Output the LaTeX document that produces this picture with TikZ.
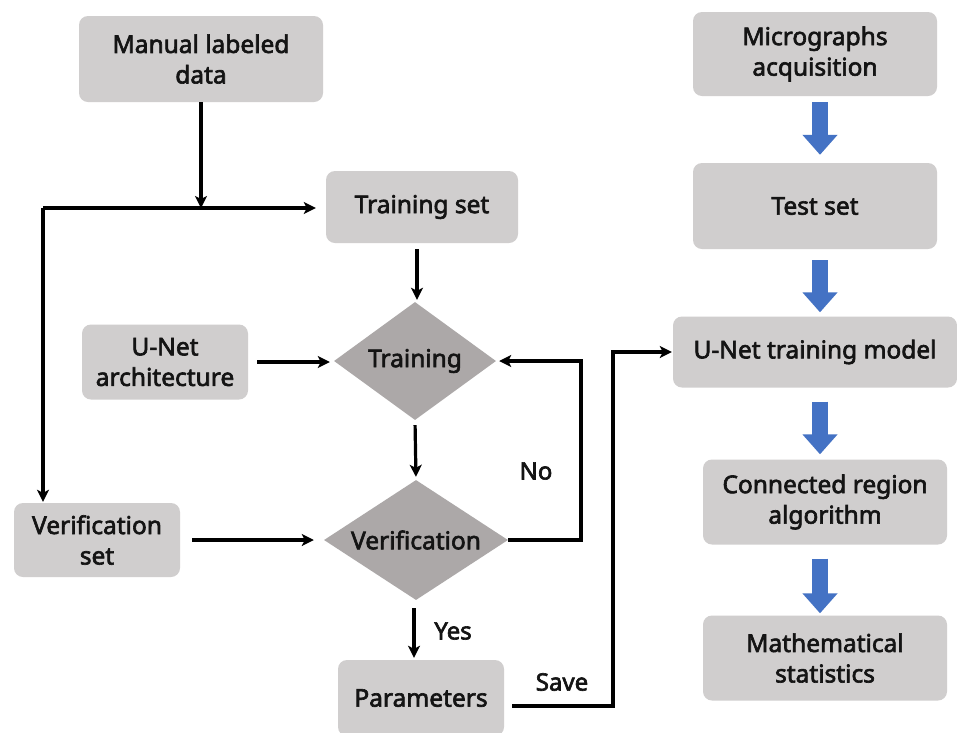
\documentclass[tikz,border=0pt]{standalone}
\usepackage{fontspec}
\setmainfont{Noto Sans}
\newfontfamily\boldnoto{Noto Sans}[FakeBold=2.6]
\usetikzlibrary{arrows.meta,shapes.geometric}
\definecolor{boxgray}{RGB}{208,206,206}
\definecolor{diagray}{RGB}{172,168,168}
\definecolor{bluearr}{RGB}{68,114,196}
\definecolor{txt}{RGB}{20,20,20}
\tikzset{
  box/.style={fill=boxgray, rounded corners=9pt, inner sep=0pt, align=center,
    text=txt, font=\fontsize{24.5}{30.5}\boldnoto},
  dia/.style={diamond, fill=diagray, inner sep=0pt, text=txt,
    font=\fontsize{24.5}{30}\boldnoto},
  lbl/.style={text=txt, font=\fontsize{24}{28}\boldnoto},
  arr/.style={line width=3.2pt, draw=black, -{Stealth[length=12pt,width=12pt,inset=3pt]}},
  barr/.style={line width=16pt, draw=bluearr, -{Triangle[length=20pt,width=34pt]}},
}
\begin{document}
\begin{tikzpicture}[x=1pt,y=-1pt]
\useasboundingbox (0,0) rectangle (957,732);
\fill[white] (0,0) rectangle (957,732);

% left column
\node[box, minimum width=244pt, minimum height=86pt] (md) at (201,59) {Manual labeled\\data};
\node[box, minimum width=192pt, minimum height=72pt] (ts) at (422,207) {Training set};
\node[box, minimum width=166pt, minimum height=75pt] (ua) at (165,362) {U-Net\\architecture};
\node[dia, minimum width=162pt, minimum height=118pt] (tr) at (415,361) {\makebox[0pt]{Training}};
\node[box, minimum width=166pt, minimum height=74pt] (vs) at (97,540) {Verification\\set};
\node[dia, minimum width=184pt, minimum height=120pt] (vr) at (416,540) {\makebox[0pt]{Verification}};
\node[box, minimum width=166pt, minimum height=76pt] (pa) at (421,698) {Parameters};

% right column
\node[box, minimum width=244pt, minimum height=84pt] (mg) at (815,54) {Micrographs\\acquisition};
\node[box, minimum width=244pt, minimum height=86pt] (te) at (815,206) {Test set};
\node[box, minimum width=284pt, minimum height=71pt] (um) at (815,352) {U-Net training model};
\node[box, minimum width=244pt, minimum height=85pt] (cr) at (825,502) {Connected region\\algorithm};
\node[box, minimum width=244pt, minimum height=85pt] (ms) at (825,658) {Mathematical\\statistics};

% labels
\node[lbl] (no) at (536,471) {No};
\node[lbl] (yes) at (453,631) {Yes};
\node[lbl] (save) at (562,682) {Save};

% coordinates
\coordinate (c1) at (43,208);
\coordinate (c2) at (581,540);
\coordinate (sv) at (613,706);

% black connectors
\draw[arr] (md.south) -- (md.south |- c1);
\draw[arr, shorten >=10pt] (c1) -- (c1 -| ts.west);
\draw[arr, shorten >=1pt] (c1) -- (c1 |- vs.north);
\draw[arr, shorten <=6pt, shorten >=2pt] ([xshift=-5]ts.south) -- ([xshift=-5]ts.south |- tr.north);
\draw[arr, shorten <=9pt, shorten >=4pt] (ua.east) -- (ua.east -| tr.west);
\draw[arr, shorten <=5pt, shorten >=3pt] (tr.south) -- (vr.north);
\draw[arr, shorten <=12pt, shorten >=10pt] (vs.east) -- (vr.west);
\draw[arr, shorten >=3pt] (vr.east) -- (c2) |- (tr.east);
\draw[arr, shorten <=8pt, shorten >=2pt] ([xshift=-2]vr.south) -- ([xshift=-2]vr.south |- pa.north);
\draw[arr, shorten >=1pt] ([shift={(8,8)}]pa.east) -- (sv) |- (um.west);

% blue arrows
\draw[barr] ([shift={(5,6)}]mg.south) -- ([shift={(5,-8)}]te.north);
\draw[barr] ([shift={(5,11)}]te.south) -- ([shift={(5,-4)}]um.north);
\draw[barr] ([shift={(5,14)}]um.south) -- ([shift={(-5,-5)}]cr.north);
\draw[barr] ([shift={(-5,14)}]cr.south) -- ([shift={(-5,-2)}]ms.north);
\end{tikzpicture}
\end{document}
